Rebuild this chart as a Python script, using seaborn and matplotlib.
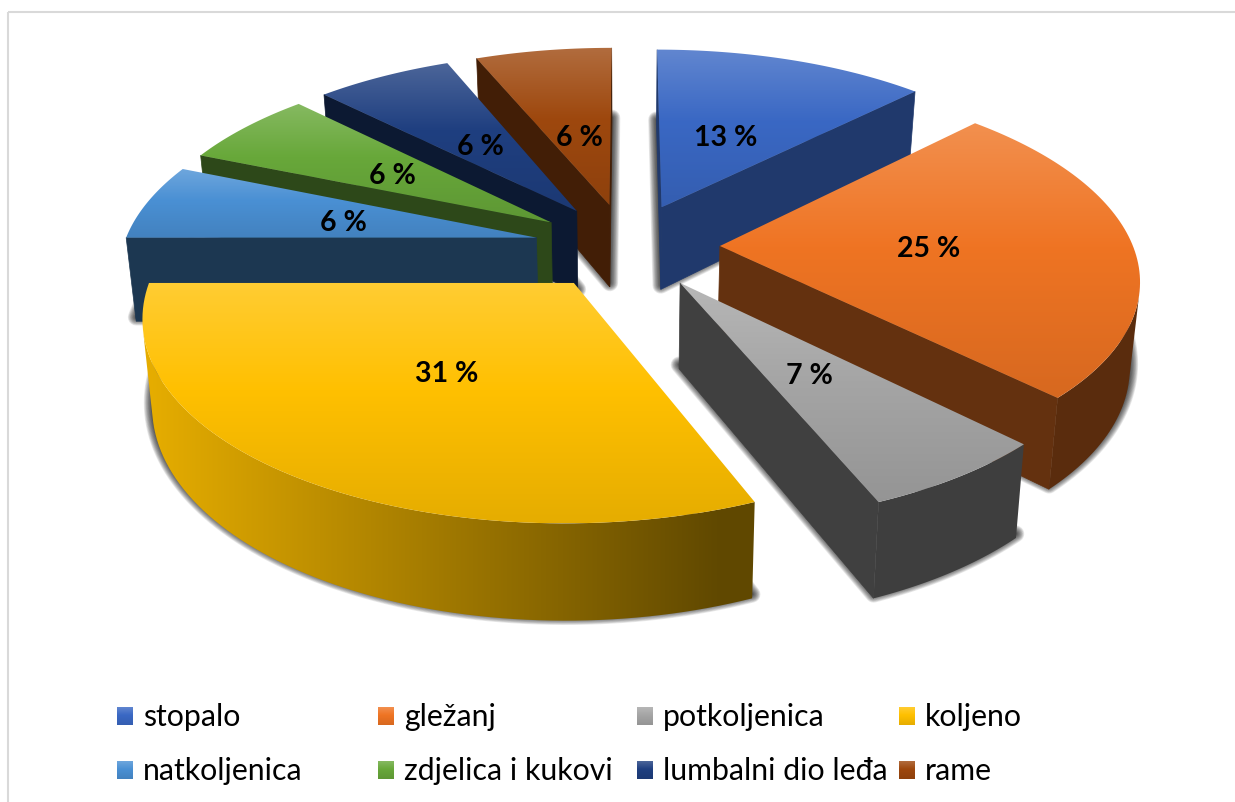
import numpy as np
import matplotlib
matplotlib.use('Agg')
import matplotlib.pyplot as plt
import seaborn as sns
from matplotlib.patches import Polygon, Rectangle
from matplotlib.colors import to_rgb

## data
parts = ['stopalo', 'gležanj', 'potkoljenica', 'koljeno',
         'natkoljenica', 'zdjelica i kukovi', 'lumbalni dio leđa', 'rame']
shares = [12.5, 25, 6.25, 31.25, 6.25, 6.25, 6.25, 6.25]
labels = ['13 %', '25 %', '7 %', '31 %', '6 %', '6 %', '6 %', '6 %']
palette = sns.color_palette(['#3a68c4', '#ef7423', '#a5a5a5', '#ffc000',
                             '#4a90d4', '#68a83a', '#1f3f80', '#9e480e'])

## camera of the fake 3D pie (pixels)
CX, CY, R = 627, 246, 413
TILT, PERSP = 0.465, 0.15
DEPTH, SHRINK = 84, 0.98
EXPLODE = 0.225
LABEL_R = [0.46, 0.505, 0.50, 0.49, 0.49, 0.50, 0.47, 0.42]
SIDE = [0.55, 0.42, 0.39, 0.42, 0.38, 0.43, 0.39, 0.42]

sns.set_theme(style='white')
plt.rcParams['font.family'] = ['Lato', 'DejaVu Sans']

fig = plt.figure(figsize=(12.35, 8.02), dpi=100)
ax = fig.add_axes([0, 0, 1, 1])


def project(x, y):
    s = 1 / (1 + PERSP * y)
    return CX + R * x * s, CY - R * TILT * y * s, s


def lower(px, py, s):
    return CX + (px - CX) * SHRINK, py + DEPTH * s ** 0.75


def gradient_poly(xy, col, z):
    ## top face: lighter on top, plain colour in the middle, a bit darker at the bottom
    col = np.array(to_rgb(col))
    y0, y1 = xy[:, 1].min(), xy[:, 1].max()
    t = np.linspace(0, 1, 200)[:, None]
    light = col + (1 - col) * 0.2
    dark = col * 0.9
    img = np.where(t < 0.45, light + (col - light) * t / 0.45,
                   col + (dark - col) * (t - 0.45) / 0.55)
    im = ax.imshow(img[:, None, :], extent=(xy[:, 0].min(), xy[:, 0].max(), y1, y0),
                   aspect='auto', zorder=z, interpolation='bilinear')
    im.set_clip_path(Polygon(xy, closed=True, transform=ax.transData))


def rim_poly(xy, col, z):
    ## outer rim: brighter to the left, dark to the right
    col = np.array(to_rgb(col))
    x0, x1 = xy[:, 0].min(), xy[:, 0].max()
    xs = np.linspace(x0, x1, 300)
    shade = np.clip(0.9 - (xs - 150) / 600 * 0.55, 0.38, 0.9)[:, None]
    img = (col * shade)[None, :, :]
    im = ax.imshow(img, extent=(x0, x1, xy[:, 1].max(), xy[:, 1].min()),
                   aspect='auto', zorder=z, interpolation='bilinear')
    im.set_clip_path(Polygon(xy, closed=True, transform=ax.transData))


def area(quad):
    x, y = quad[:, 0], quad[:, 1]
    return np.sum(x * np.roll(y, -1) - np.roll(x, -1) * y)


def draw_wedge(start, end, col, side_k, z):
    mid = (start + end) / 2
    ox, oy = EXPLODE * np.sin(mid), EXPLODE * np.cos(mid)
    th = np.linspace(start, end, 80)
    ax_, ay_, as_ = project(ox, oy)
    rx, ry, rs = project(ox + np.sin(th), oy + np.cos(th))
    top = np.vstack([[ax_, ay_], np.column_stack([rx, ry])])
    bx, by = lower(rx, ry, rs)
    abx, aby = lower(ax_, ay_, as_)
    col = np.array(to_rgb(col))

    ## soft shadow: bottom outline, blurred with many thin strokes
    drop = np.vstack([[abx, aby], np.column_stack([bx, by])]) + np.array([0, -4])
    for lw in range(1, 13):
        ax.add_patch(Polygon(drop, closed=True, fc='none', ec='black', lw=lw, alpha=0.085,
                             zorder=z, joinstyle='round'))

    ## radial side faces
    side = col * side_k
    for px, py, qx, qy, flip in ((rx[0], ry[0], bx[0], by[0], False),
                                 (rx[-1], ry[-1], bx[-1], by[-1], True)):
        quad = np.array([[ax_, ay_], [px, py], [qx, qy], [abx, aby]])
        if (area(quad) > 0) != flip:
            continue
        ax.add_patch(Polygon(quad, closed=True, fc=side, ec=side, lw=0.5, zorder=z + 0.1))

    ## outer rim, only the part that faces the viewer
    keep = np.array([area(np.array([[rx[i], ry[i]], [rx[i + 1], ry[i + 1]],
                                    [bx[i + 1], by[i + 1]], [bx[i], by[i]]])) < 0
                     for i in range(len(th) - 1)])
    if keep.any():
        idx = np.where(keep)[0]
        i0, i1 = idx[0], idx[-1] + 2
        rim = np.vstack([np.column_stack([rx[i0:i1], ry[i0:i1]]),
                         np.column_stack([bx[i0:i1], by[i0:i1]])[::-1]])
        rim_poly(rim, col, z + 0.2)

    gradient_poly(top, col, z + 0.3)


fractions = np.array(shares) / sum(shares)
stops = np.concatenate([[0], np.cumsum(fractions)]) * 2 * np.pi
mids = (stops[:-1] + stops[1:]) / 2

## painter's order, the far slices first
order = np.argsort(-np.cos(mids))
for rank, i in enumerate(order):
    draw_wedge(stops[i], stops[i + 1], palette[i], SIDE[i], 2 + rank)

## data labels
for i, lab in enumerate(labels):
    lx = (EXPLODE + LABEL_R[i]) * np.sin(mids[i])
    ly = (EXPLODE + LABEL_R[i]) * np.cos(mids[i])
    px, py, _ = project(lx, ly)
    ax.text(px, py + 3, lab, ha='center', va='center', fontsize=20.5, fontweight='bold',
            color='black', zorder=20)

## legend
col_x = [117, 378, 637, 899]
row_y = [716, 770]
for i, name in enumerate(parts):
    x0 = col_x[i % 4]
    y0 = row_y[i // 4]
    gradient_poly(np.array([[x0, y0 - 9], [x0 + 16, y0 - 9], [x0 + 16, y0 + 9], [x0, y0 + 9]]), palette[i], 20)
    ax.text(x0 + 26, y0 + 1, name, ha='left', va='center', fontsize=21.8, color='black', zorder=21)

## chart frame
ax.add_patch(Rectangle((8, 12), 1300, 900, fc='none', ec='#d9d9d9', lw=1.5, zorder=1))

ax.set_xlim(0, 1235)
ax.set_ylim(802, 0)
ax.axis('off')
fig.savefig('out.png', dpi=100)
